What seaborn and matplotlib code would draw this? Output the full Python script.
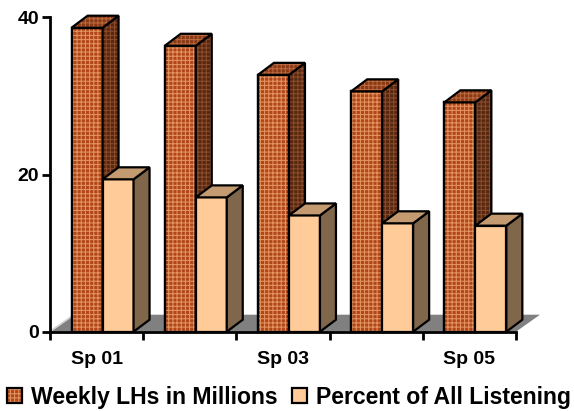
import numpy as np
import pandas as pd
import matplotlib
matplotlib.use("Agg")
import matplotlib.pyplot as plt
from matplotlib.patches import Polygon, Patch
from matplotlib.legend_handler import HandlerTuple
import seaborn as sns

# ---- data -------------------------------------------------------------
seasons = ["Sp 01", "Sp 02", "Sp 03", "Sp 04", "Sp 05"]
season_labels = ["Sp 01", "", "Sp 03", "", "Sp 05"]
series_names = ["Weekly LHs in Millions", "Percent of All Listening"]
weekly_lh = [38.7, 36.4, 32.7, 30.6, 29.2]
pct_listening = [19.4, 17.1, 14.8, 13.8, 13.5]
y_ticks = [0, 20, 40]

df = pd.DataFrame({
    "season": seasons * 2,
    "series": [series_names[0]] * len(seasons) + [series_names[1]] * len(seasons),
    "value": weekly_lh + pct_listening,
})

# ---- style ------------------------------------------------------------
sns.set_style("white")
plt.rcParams["font.family"] = ["Liberation Sans", "DejaVu Sans"]
plt.rcParams["font.weight"] = "bold"
plt.rcParams["text.color"] = "black"
plt.rcParams["xtick.color"] = "black"
plt.rcParams["ytick.color"] = "black"
plt.rcParams["hatch.linewidth"] = 0.75

RUST = "#B0461A"
RUST_DOT = "#E39460"
RUST_TOP = "#8A3914"
RUST_TOP_DOT = "#BA6A40"
RUST_SIDE = "#582710"
RUST_SIDE_DOT = "#8A4C2C"
PEACH = "#FFCC99"
PEACH_TOP = "#C49A70"
PEACH_SIDE = "#80664A"
FLOOR = "#808080"
HATCH = "++++"
EDGE_LW = 1.6

W, H, DPI = 574, 411, 100
fig = plt.figure(figsize=(W / DPI, H / DPI), dpi=DPI)
ax_left, ax_bottom, ax_w, ax_h = 50, 331.7, 466, 314.2
ax = fig.add_axes([ax_left / W, 1 - ax_bottom / H, ax_w / W, ax_h / H])

sns.barplot(data=df, x="season", y="value", hue="series",
            order=seasons, hue_order=series_names,
            palette=[RUST, PEACH], width=0.665, saturation=1,
            edgecolor="black", linewidth=EDGE_LW, legend=False, ax=ax)

# label positions sit slightly left of the bar fronts (3-D projection)
shift = 0.064
xmin, xmax = -0.5 - shift, len(seasons) - 0.5 - shift
ax.set_xlim(xmin, xmax)
ax.set_ylim(0, 40)

# pixel -> data conversion for the depth offsets
px_x = (xmax - xmin) / ax_w
px_y = 40 / ax_h
bar_dx, bar_dy = 16 * px_x, 12 * px_y
floor_dx, floor_dy = 24 * px_x, 17 * px_y


def face(verts, fc, z, dot=None):
    ax.add_patch(Polygon(verts, closed=True, fc=fc, ec="none", lw=0,
                         zorder=z, clip_on=False))
    if dot is not None:
        ax.add_patch(Polygon(verts, closed=True, fc="none", ec=dot, lw=0,
                             hatch=HATCH, zorder=z, clip_on=False))
    ax.add_patch(Polygon(verts, closed=True, fc="none", ec="black",
                         lw=EDGE_LW, joinstyle="miter", zorder=z, clip_on=False))


# floor of the 3-D box
floor = [(xmin, 0), (xmax, 0), (xmax + floor_dx, floor_dy), (xmin + floor_dx, floor_dy)]
ax.add_patch(Polygon(floor, closed=True, fc=FLOOR, ec="none", zorder=1, clip_on=False))
ax.plot([xmin, xmin + floor_dx], [0, floor_dy], color="#D0D0D0", lw=1.2,
        zorder=1.1, clip_on=False)

styles = [
    dict(z=2, front_dot=RUST_DOT, top=RUST_TOP, top_dot=RUST_TOP_DOT,
         side=RUST_SIDE, side_dot=RUST_SIDE_DOT),
    dict(z=3, front_dot=None, top=PEACH_TOP, top_dot=None,
         side=PEACH_SIDE, side_dot=None),
]

for container, st in zip(ax.containers, styles):
    for rect in container.patches:
        z = st["z"]
        rect.set_zorder(z)
        rect.set_clip_on(False)
        x0, w, h = rect.get_x(), rect.get_width(), rect.get_height()
        front = [(x0, 0), (x0 + w, 0), (x0 + w, h), (x0, h)]
        if st["front_dot"] is not None:
            ax.add_patch(Polygon(front, closed=True, fc="none", ec=st["front_dot"],
                                 lw=0, hatch=HATCH, zorder=z, clip_on=False))
            ax.add_patch(Polygon(front, closed=True, fc="none", ec="black",
                                 lw=EDGE_LW, joinstyle="miter", zorder=z, clip_on=False))
        side = [(x0 + w, 0), (x0 + w + bar_dx, bar_dy),
                (x0 + w + bar_dx, h + bar_dy), (x0 + w, h)]
        top = [(x0, h), (x0 + w, h), (x0 + w + bar_dx, h + bar_dy), (x0 + bar_dx, h + bar_dy)]
        face(side, st["side"], z, st["side_dot"])
        face(top, st["top"], z, st["top_dot"])

# ---- axes -------------------------------------------------------------
ax.set_xlabel("")
ax.set_ylabel("")
for s in ["top", "right"]:
    ax.spines[s].set_visible(False)
for s in ["left", "bottom"]:
    ax.spines[s].set_linewidth(2)
    ax.spines[s].set_color("black")
    ax.spines[s].set_zorder(5)

ax.set_yticks(y_ticks)
ax.set_yticklabels([str(t) for t in y_ticks])
ax.tick_params(axis="y", left=True, length=6, width=2, pad=2,
               labelsize=14, direction="out", colors="black")

centers = np.arange(len(seasons)) - shift
bounds = np.arange(len(seasons) + 1) - 0.5 - shift
ax.set_xticks(bounds)
ax.set_xticklabels([""] * len(bounds))
ax.set_xticks(centers, minor=True)
ax.set_xticklabels(season_labels, minor=True)
ax.tick_params(axis="x", which="major", bottom=True, length=6, width=2,
               direction="out", colors="black")
ax.tick_params(axis="x", which="minor", bottom=True, length=0, pad=14,
               labelsize=14, labelcolor="black")
for lab in ax.get_xticklabels(minor=True) + ax.get_yticklabels():
    lab.set_fontweight("bold")
    lab.set_color("black")

# ---- legend -----------------------------------------------------------
rust_handle = (Patch(fc=RUST, ec=RUST_DOT, lw=0, hatch=HATCH),
               Patch(fc="none", ec="black", lw=EDGE_LW))
peach_handle = Patch(fc=PEACH, ec="black", lw=EDGE_LW)
leg = fig.legend([rust_handle, peach_handle], series_names,
                 handler_map={tuple: HandlerTuple(ndivide=1)},
                 loc="center", bbox_to_anchor=(289 / W, 1 - 397 / H), ncol=2,
                 frameon=False, handlelength=0.66, handleheight=0.66,
                 handletextpad=0.4, columnspacing=0.6, borderpad=0,
                 prop={"size": 16.6, "weight": "bold"})
for t in leg.get_texts():
    t.set_color("black")

fig.savefig("out.png", dpi=DPI)
